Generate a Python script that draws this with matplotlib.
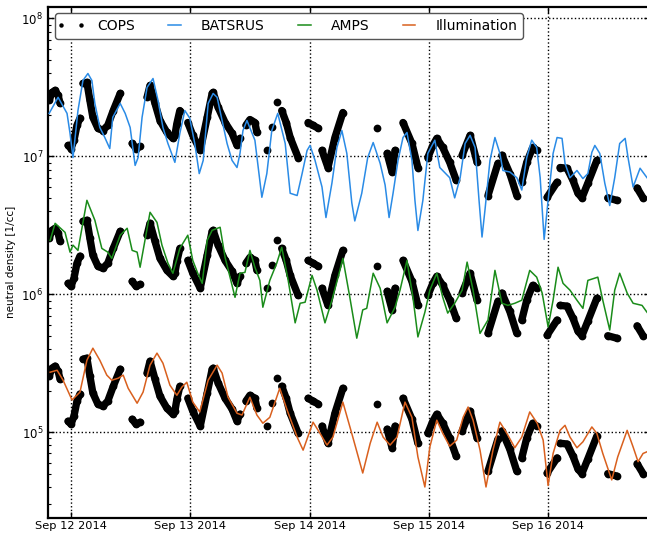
import numpy as np
import pandas as pd
import matplotlib
matplotlib.use('Agg')
import matplotlib.pyplot as plt
import matplotlib.dates as mdates
from matplotlib.lines import Line2D
from matplotlib.legend_handler import HandlerLine2D
from matplotlib.ticker import LogLocator

nan = np.nan
START = pd.Timestamp('2014-09-12 00:00')

# ---- COPS measurements (hours since Sep 12 2014 00:00, density in 1e6 /cc); NaN = data gap
cops_hours = [-4.4, -3.8, -3.2, -2.6, -2.2, nan,
              -0.6, 0.0, 0.6, 1.2, 1.8, nan,
              2.4, 3.2, 3.8, 4.4, 5.4, 6.4, 7.4, 8.5, 9.9, nan,
              12.3, 13.1, 13.9, nan,
              15.3, 15.9, 16.9, 17.9, 19.3, 20.5, 20.9, 21.3, 21.9, nan,
              23.5, 24.5, 26.0, 27.4, 28.4, 28.6, 29.6, 31.0, 32.4, 33.4, 34.0, nan,
              35.2, 36.0, 37.0, 37.4, nan,
              39.4, nan, 40.4, nan, 41.4, nan,
              42.4, 43.3, 44.1, 45.7, nan,
              47.7, 48.7, 49.7, nan,
              50.5, 51.7, 53.1, 54.7, nan,
              61.6, nan,
              63.6, 64.6, 65.2, nan,
              66.8, 68.6, 69.8, nan,
              71.8, 72.8, 73.6, 74.8, 76.2, 77.5, nan,
              78.7, 80.3, 81.7, nan,
              83.9, 85.9, nan,
              86.7, 88.3, 89.7, nan,
              90.7, 91.7, 92.9, 93.7, nan,
              95.8, 97.8, nan,
              98.4, 99.8, 101.0, 102.0, 102.8, 104.0, 105.8, nan,
              108.0, 109.8, nan,
              113.9, 115.1]
cops_density = [25.5, 29.1, 30.1, 27.7, 24.2, nan,
                12.0, 11.4, 13.1, 16.8, 18.9, nan,
                33.8, 34.4, 25.5, 19.2, 16.0, 15.4, 16.8, 21.5, 28.6, nan,
                12.4, 11.4, 11.8, nan,
                26.8, 32.7, 24.2, 18.2, 14.9, 13.5, 14.2, 17.3, 21.5, nan,
                17.6, 14.2, 11.05, 19.2, 28.6, 29.1, 22.7, 17.6, 14.7, 12.0, 13.5, nan,
                16.8, 18.5, 17.6, 14.9, nan,
                11.05, nan, 16.2, nan, 24.6, nan,
                21.5, 17.6, 13.7, 9.8, nan,
                17.6, 16.8, 16.0, nan,
                11.05, 8.3, 13.7, 20.8, nan,
                16.0, nan,
                10.5, 7.7, 11.05, nan,
                17.6, 12.4, 8.3, nan,
                9.8, 12.0, 13.5, 11.6, 9.05, 6.7, nan,
                10.2, 14.2, 9.05, nan,
                5.2, 8.9, nan,
                10.2, 7.5, 5.2, nan,
                6.5, 9.05, 11.6, 11.05, nan,
                5.05, 6.5, nan,
                8.3, 8.2, 6.7, 5.4, 5.0, 6.4, 9.35, nan,
                5.0, 4.8, nan,
                5.9, 5.0]

# ---- BATSRUS model
bats_hours = [-4.4, -2.6, -0.8, -0.2, 0.4, 1.4, 2.4, 3.4, 4.2, 4.8, 5.8, 6.8, 7.8, 8.4, 9.9,
              10.9, 11.9, 12.9, 13.5, 14.3, 15.3, 16.5, 17.5, 18.5, 19.5, 20.9, 21.9, 22.9,
              23.9, 24.9, 25.8, 26.6, 27.6, 28.6, 29.4, 30.4, 31.4, 32.4, 33.4, 34.0, 34.6,
              35.4, 37.0, 38.4, 39.4, 40.4, 41.6, 43.1, 44.1, 45.5, 46.5, 47.5, 48.1, 49.1,
              50.5, 51.3, 52.5, 53.5, 54.5, 55.5, 56.5, 57.1, 58.5, 59.7, 60.8, 62.2, 63.2,
              64.0, 64.8, 65.8, 66.8, 67.6, 68.6, 69.2, 69.8, 70.8, 71.8, 73.2, 74.2, 76.2,
              77.2, 78.3, 79.3, 80.3, 81.3, 82.1, 82.7, 83.3, 84.3, 85.3, 86.3, 86.9, 88.3,
              89.7, 90.7, 91.7, 92.7, 93.7, 94.4, 95.2, 96.0, 97.0, 97.8, 98.8, 99.4, 100.4,
              101.8, 103.0, 104.0, 104.8, 105.4, 106.4, 107.4, 108.4, 109.4, 110.4, 111.5,
              112.1, 113.1, 114.5, 115.9]
bats_density = [20.5, 26.8, 20.5, 14.7, 9.8, 21.5, 35.5, 39.9, 35.5, 24.2, 16.2, 13.7, 11.4, 19.2, 24.2,
                20.5, 16.2, 8.6, 9.8, 19.2, 31.6, 36.7, 25.5, 16.2, 12.4, 9.05, 14.7, 21.5,
                18.9, 12.4, 7.5, 9.35, 24.2, 28.6, 26.8, 18.2, 12.4, 9.35, 8.3, 10.5, 15.4,
                18.2, 13.1, 5.05, 7.5, 15.4, 20.5, 12.4, 5.4, 5.2, 7.5, 11.05, 12.0, 9.35,
                6.0, 3.6, 6.4, 11.6, 15.4, 10.5, 4.6, 3.4, 5.4, 9.8, 12.6, 8.9, 6.2,
                3.6, 5.4, 9.35, 13.7, 14.9, 9.35, 4.8, 2.9, 4.8, 10.5, 13.1, 8.3, 7.0,
                5.0, 7.0, 12.4, 14.2, 11.6, 4.8, 2.6, 4.1, 9.35, 13.7, 10.5, 7.9, 7.7,
                7.0, 5.7, 9.8, 13.1, 11.6, 7.0, 2.5, 4.8, 10.5, 13.7, 13.5, 8.9, 7.0,
                7.9, 6.9, 7.5, 10.7, 12.0, 10.5, 6.4, 4.4, 7.0, 12.4, 13.5,
                9.7, 6.0, 8.2, 7.0]

# ---- AMPS model
amps_hours = [-4.2, -3.2, -1.2, -0.2, 0.4, 1.4, 3.2, 4.8, 6.2, 7.4, 8.2, 9.9, 11.3, 12.3, 13.3,
              13.9, 15.9, 17.3, 18.3, 19.5, 20.5, 21.9, 23.5, 24.5, 25.5, 26.4, 27.4, 28.4,
              30.0, 31.0, 32.0, 33.0, 34.0, 35.0, 36.0, 37.0, 38.0, 38.6, 40.0, 41.4, 42.4,
              43.7, 45.1, 46.1, 47.1, 48.5, 49.5, 51.1, 52.5, 54.1, 54.7, 56.1, 57.5, 58.7,
              59.5, 60.8, 62.2, 63.6, 65.2, 66.2, 67.6, 68.8, 69.8, 71.2, 72.2, 73.6, 74.8,
              75.8, 77.2, 78.7, 79.7, 80.9, 82.3, 83.9, 85.3, 86.7, 87.9, 89.3, 90.7, 92.3,
              93.7, 94.8, 96.0, 97.0, 98.0, 99.0, 100.4, 101.8, 103.0, 104.0, 106.0, 107.0,
              108.4, 109.4, 110.4, 111.9, 113.1, 114.9, 115.9]
amps_density = [24.6, 32.7, 28.1, 20.2, 22.7, 20.8, 48.0, 34.4, 21.5, 20.2, 18.2, 26.8, 30.1, 20.8, 20.2,
                15.7, 39.3, 33.2, 22.7, 16.8, 14.2, 21.5, 26.8, 17.6, 14.2, 12.0, 24.6, 29.1,
                30.6, 18.5, 13.3, 9.5, 14.2, 14.4, 20.8, 15.7, 12.6, 8.05, 12.6, 16.8, 21.9,
                12.6, 6.2, 8.6, 8.75, 13.7, 10.7, 6.2, 9.05, 14.9, 18.2, 9.5, 4.8, 7.7,
                7.9, 14.2, 11.05, 6.2, 8.05, 10.7, 17.6, 9.5, 4.9, 7.4, 10.7, 14.2, 9.5,
                7.3, 8.6, 10.7, 17.1, 10.7, 5.2, 6.5, 14.9, 8.6, 8.3, 8.6, 9.05, 14.9,
                13.3, 10.2, 5.8, 9.05, 15.7, 12.0, 10.7, 9.05, 7.9, 12.6, 13.3, 9.05,
                5.5, 10.7, 14.2, 10.2, 8.6, 8.3, 7.4]

# ---- Illumination model
illum_hours = [-4.2, -2.8, -1.6, 0.2, 1.8, 3.2, 4.4, 5.8, 7.2, 8.2, 9.5, 10.5, 11.5, 13.3, 14.5,
               15.9, 17.3, 18.5, 19.9, 21.3, 22.3, 23.3, 24.5, 25.9, 27.6, 29.4, 30.4, 31.6,
               33.4, 34.4, 36.0, 37.4, 38.6, 40.0, 42.0, 43.5, 45.5, 46.7, 48.7, 50.1, 51.5,
               52.7, 54.7, 56.7, 58.7, 60.2, 61.6, 62.8, 64.2, 65.6, 67.2, 68.6, 69.8, 71.2,
               72.2, 73.6, 74.8, 76.2, 77.6, 78.9, 79.9, 80.9, 82.3, 83.5, 84.9, 86.3, 87.7,
               89.3, 90.7, 92.3, 93.8, 95.0, 96.0, 97.0, 98.4, 99.4, 100.4, 101.8, 103.0,
               104.8, 105.8, 107.0, 108.8, 110.0, 111.9, 113.1, 114.1, 115.1, 115.9]
illum_density = [27.2, 28.1, 23.8, 17.1, 19.5, 33.2, 40.6, 33.2, 25.9, 23.8, 24.6, 25.9, 20.8, 16.2, 19.5,
                 30.6, 37.4, 31.6, 21.9, 18.5, 21.2, 23.0, 16.5, 14.0, 23.8, 30.6, 26.8, 17.9,
                 13.7, 13.3, 17.9, 13.3, 11.6, 12.8, 20.8, 14.4, 9.2, 7.4, 11.8, 9.8, 8.05,
                 9.2, 16.5, 9.2, 5.05, 8.3, 11.8, 9.2, 8.05, 9.2, 16.5, 12.8, 6.6, 4.0,
                 7.8, 12.2, 9.8, 7.9, 8.75, 12.8, 15.2, 12.2, 7.4, 4.0, 7.4, 11.8, 9.8,
                 7.7, 9.2, 14.0, 11.6, 8.75, 4.1, 7.0, 10.3, 11.2, 9.2, 7.7, 8.5,
                 10.9, 9.8, 7.0, 4.5, 6.6, 10.3, 7.8, 6.1, 7.0, 7.2]

band_scales = [1.0, 0.1, 0.01]   # COPS shown against BATSRUS, AMPS, Illumination
legend_labels = ['COPS', 'BATSRUS', 'AMPS', 'Illumination']


def to_dates(hours):
    return mdates.date2num(START.to_pydatetime()) + np.asarray(hours, dtype=float) / 24.0


plt.rcParams['font.family'] = ['DejaVu Sans']
plt.rcParams['mathtext.fontset'] = 'dejavusans'

fig = plt.figure(figsize=(6.47, 5.33), dpi=100)
L, R, B, T = 48 / 647, 650 / 647, 15 / 533, 526.5 / 533
ax = fig.add_axes([L, B, R - L, T - B])

cops_t = to_dates(cops_hours)
cops_v = np.asarray(cops_density) * 1e6
for s in band_scales:
    ax.plot(cops_t, cops_v * s, color='k', lw=5.3, marker='o', ms=5.6, mew=0,
            solid_capstyle='round', solid_joinstyle='round', zorder=2)

lb, = ax.plot(to_dates(bats_hours), np.asarray(bats_density) * 1e6 * band_scales[0],
              color='#2a8be6', lw=1.1, zorder=3)
la, = ax.plot(to_dates(amps_hours), np.asarray(amps_density) * 1e6 * band_scales[1],
              color='#1a8c1a', lw=1.1, zorder=3)
li, = ax.plot(to_dates(illum_hours), np.asarray(illum_density) * 1e6 * band_scales[2],
              color='#d9601e', lw=1.1, zorder=3)

ax.set_yscale('log')
ax.set_ylim(10 ** 4.377, 10 ** 8.087)
ax.set_xlim(to_dates([-4.63])[0], to_dates([116.5])[0])

ax.xaxis.set_major_locator(mdates.DayLocator())
ax.xaxis.set_major_formatter(mdates.DateFormatter('%b %d %Y'))
ax.yaxis.set_major_locator(LogLocator(base=10, numticks=10))
ax.yaxis.set_minor_locator(LogLocator(base=10, subs=np.arange(2, 10), numticks=20))

ax.grid(True, which='major', color='k', linestyle=':', linewidth=1.0)
ax.tick_params(which='both', direction='in', top=True, right=True, labelsize=8.5)
ax.tick_params(which='major', length=4, width=1)
ax.tick_params(which='minor', length=2, width=0.8)
ax.tick_params(axis='x', pad=2, labelsize=8.2)
for sp in ax.spines.values():
    sp.set_linewidth(1.6)

ax.set_ylabel('neutral density [1/cc]', fontsize=7.5, labelpad=4)

cops_handle = Line2D([], [], color='k', marker='o', ls='none', ms=3.2, mew=0)
leg = ax.legend([cops_handle, lb, la, li], legend_labels, loc='upper left', ncol=4,
                numpoints=2, fontsize=10, handlelength=1.5, columnspacing=2.1,
                handletextpad=1.15, borderpad=0.4, borderaxespad=0.5,
                fancybox=True, framealpha=1,
                handler_map={cops_handle: HandlerLine2D(numpoints=2, marker_pad=0.0)})
leg.get_frame().set_edgecolor('#555555')
leg.get_frame().set_linewidth(1.0)

fig.savefig('out.png', dpi=100)
